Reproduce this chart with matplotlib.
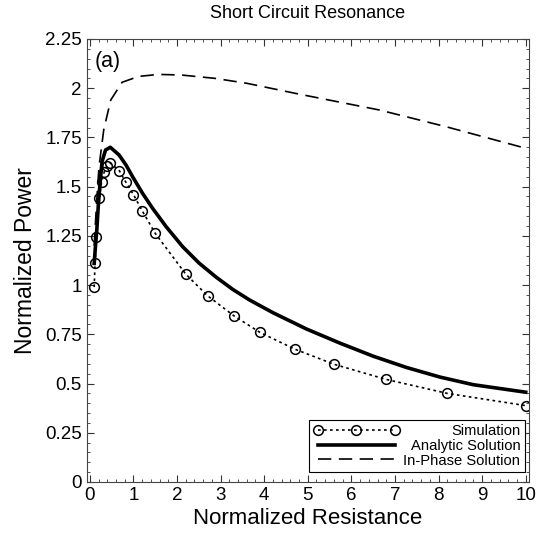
import matplotlib
matplotlib.use("Agg")
import matplotlib.pyplot as plt
from matplotlib.ticker import MultipleLocator, FuncFormatter

plt.rcParams['font.family'] = ['Liberation Sans', 'DejaVu Sans']

# simulation points (E12 resistor values)
sim_r = [0.1, 0.12, 0.15, 0.22, 0.27, 0.33, 0.39, 0.47, 0.68, 0.82, 1.0, 1.2,
         1.5, 2.2, 2.7, 3.3, 3.9, 4.7, 5.6, 6.8, 8.2, 10.0]
sim_p = [0.99, 1.11, 1.245, 1.44, 1.525, 1.575, 1.605, 1.62, 1.58, 1.525, 1.46, 1.378,
         1.263, 1.056, 0.946, 0.845, 0.76, 0.675, 0.598, 0.521, 0.45, 0.388]

# analytic solution
ana_r = [0.1, 0.13, 0.16, 0.19, 0.22, 0.28, 0.36, 0.47, 0.67, 0.83, 0.98, 1.21,
         1.44, 1.75, 2.13, 2.51, 2.9, 3.28, 3.66, 4.2, 4.97, 5.73, 6.5, 7.26,
         8.03, 8.8, 10.0]
ana_p = [1.11, 1.2, 1.28, 1.39, 1.48, 1.627, 1.686, 1.70, 1.661, 1.61, 1.551, 1.466,
         1.39, 1.297, 1.195, 1.111, 1.04, 0.978, 0.925, 0.86, 0.777, 0.706, 0.639, 0.582,
         0.533, 0.494, 0.456]

# in-phase solution
inp_r = [0.1, 0.15, 0.21, 0.32, 0.48, 0.74, 1.12, 1.58, 2.1, 2.87, 3.6, 4.8,
         6.65, 8.18, 10.0]
inp_p = [1.2, 1.4, 1.60, 1.79, 1.94, 2.03, 2.06, 2.07, 2.067, 2.05, 2.025, 1.97,
         1.889, 1.804, 1.695]

fig = plt.figure(figsize=(5.39, 5.34), dpi=100)
ax = fig.add_axes([0.161, 0.0974, 0.82, 0.8296])

ax.plot(sim_r, sim_p, linestyle=(0, (1.6, 2.0)), color='black', lw=1.2,
        marker='o', markersize=7, markerfacecolor='none', markeredgecolor='black',
        markeredgewidth=1.1, label='Simulation')
ax.plot(ana_r, ana_p, '-', color='black', lw=2.6, solid_joinstyle='round',
        label='Analytic Solution')
ax.plot(inp_r, inp_p, linestyle=(0, (8, 4.5)), color='black', lw=1.2,
        label='In-Phase Solution')

ax.set_xlim(-0.07, 10.07)
ax.set_ylim(0, 2.25)
ax.xaxis.set_major_locator(MultipleLocator(1))
ax.xaxis.set_minor_locator(MultipleLocator(0.2))
ax.yaxis.set_major_locator(MultipleLocator(0.25))
ax.yaxis.set_minor_locator(MultipleLocator(0.05))
fmt = FuncFormatter(lambda v, p: '%g' % v)
ax.xaxis.set_major_formatter(fmt)
ax.yaxis.set_major_formatter(fmt)
ax.tick_params(which='both', direction='in', top=True, right=True,
               labelsize=13.5, color='#333333')
ax.tick_params(which='major', length=5)
ax.tick_params(which='minor', length=2.5)
for s in ax.spines.values():
    s.set_color('#444444')

ax.set_title('Short Circuit Resonance', fontsize=13, pad=15)
ax.set_xlabel('Normalized Resistance', fontsize=16, labelpad=3)
ax.set_ylabel('Normalized Power', fontsize=16.5, labelpad=6)
ax.text(0.1, 2.11, '(a)', fontsize=15.5)

leg = ax.legend(loc='lower right', bbox_to_anchor=(0.991, 0.0226), borderaxespad=0,
                fontsize=10.6, handlelength=5.8, handletextpad=0.3, numpoints=3,
                fancybox=False, edgecolor='black', framealpha=1, borderpad=0.3,
                labelspacing=0.05)
leg.get_frame().set_linewidth(0.8)

# right-align the legend labels like the original
fig.canvas.draw()
rend = fig.canvas.get_renderer()
texts = leg.get_texts()
widths = [t.get_window_extent(rend).width for t in texts]
rows = leg._legend_handle_box.get_children()[0].get_children()
for row, w in zip(rows, widths):
    row.sep = row.sep + (max(widths) - w) * 72.0 / fig.dpi

fig.savefig('out.png', dpi=100)
